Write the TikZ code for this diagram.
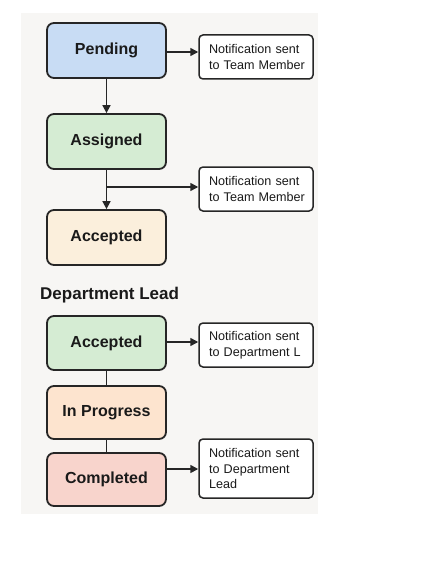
\documentclass[tikz,border=0pt]{standalone}
\usepackage{fontspec}
\setmainfont{Liberation Sans}
\usetikzlibrary{arrows.meta}
\definecolor{panel}{HTML}{F7F6F4}
\definecolor{ink}{HTML}{1A1A1A}
\definecolor{edge}{HTML}{262626}
\definecolor{cblue}{HTML}{C8DCF4}
\definecolor{cgreen}{HTML}{D5ECD3}
\definecolor{ccream}{HTML}{FBEFDC}
\definecolor{cpeach}{HTML}{FDE4CF}
\definecolor{cpink}{HTML}{F8D4CC}
\tikzset{
  state/.style={draw=edge, line width=1.8pt, rounded corners=7pt, minimum width=119pt, minimum height=54pt, inner sep=0pt, text=ink, font=\fontsize{16}{19}\selectfont\bfseries},
  note/.style={draw=edge, fill=white, line width=1.5pt, rounded corners=4pt, minimum width=114pt, text width=94pt, inner xsep=10pt, inner ysep=0pt, align=left, text=ink, font=\fontsize{12.6}{15.6}\selectfont},
  flow/.style={draw=edge, line width=1.6pt},
  arr/.style={flow, -{Triangle[length=8pt,width=8pt]}}
}
\begin{document}
\begin{tikzpicture}[x=1pt,y=-1pt]
\useasboundingbox (0,0) rectangle (430,580);
\fill[panel] (21,13) rectangle (318,514);

\node[state, fill=cblue, minimum height=55pt] (pending) at (106.5,50.5) {Pending};
\node[state, fill=cgreen, minimum height=55pt] (assigned) at (106.5,141.5) {Assigned};
\node[state, fill=ccream, minimum height=55pt] (acc1) at (106.5,237.5) {Accepted};

\node[anchor=west, text=ink, font=\fontsize{17}{20}\selectfont\bfseries, inner sep=0pt] (dept) at (40,295) {Department Lead};

\node[state, fill=cgreen] (acc2) at (106.5,343) {Accepted};
\node[state, fill=cpeach, minimum height=53pt] (prog) at (106.5,412.5) {In Progress};
\node[state, fill=cpink, minimum height=53pt] (done) at (106.5,479.5) {Completed};

\node[note, minimum height=44pt] (n1) at (256,57) {\mbox{Notification sent}\\\mbox{to Team Member}};
\node[note, minimum height=44pt] (n2) at (256,189) {\mbox{Notification sent}\\\mbox{to Team Member}};
\node[note, minimum height=44pt] (n3) at (256,345) {\mbox{Notification sent}\\\mbox{to Department L}};
\node[note, minimum height=59pt] (n4) at (256,468.5) {\mbox{Notification sent}\\\mbox{to Department}\\\mbox{Lead}};

\coordinate (br) at (106.5,187);
\draw[arr] (pending.east |- 0,52) -- (n1.west |- 0,52);
\draw[arr] (pending) -- (assigned);
\draw[arr] (assigned) -- (acc1);
\draw[arr] (br) -- (n2.west |- br);
\draw[arr] (acc2.east |- 0,342) -- (n3.west |- 0,342);
\draw[flow] (acc2) -- (prog);
\draw[flow] (prog) -- (done);
\draw[arr] (done.east |- 0,469) -- (n4.west |- 0,469);
\end{tikzpicture}
\end{document}
